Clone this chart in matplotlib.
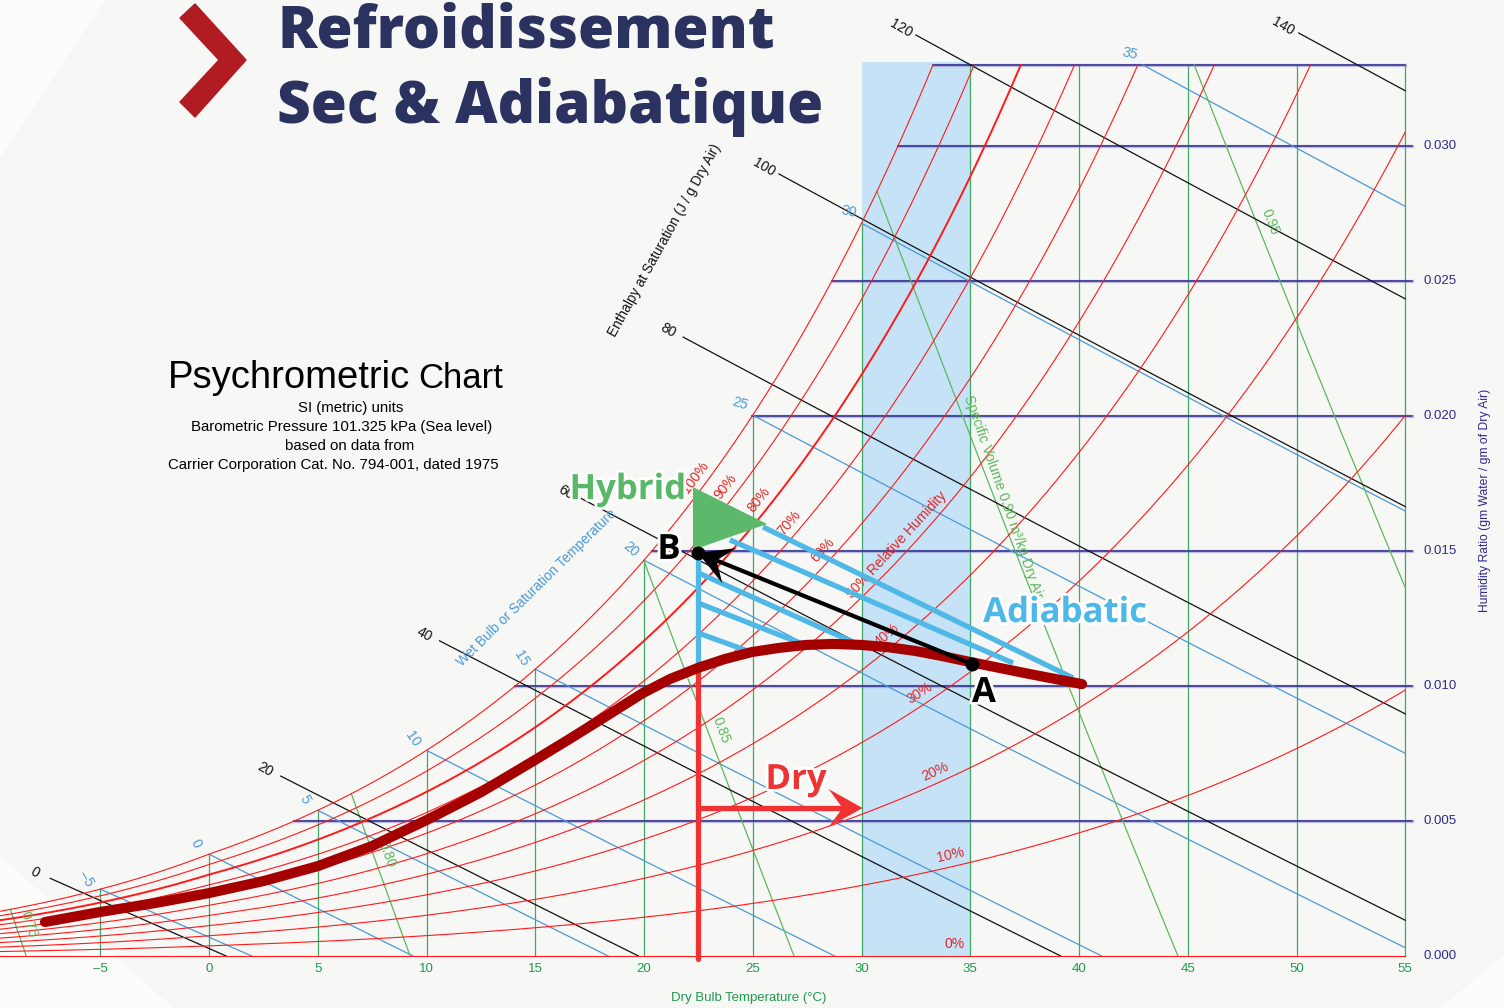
import numpy as np
import matplotlib.pyplot as plt
from matplotlib.patches import Polygon, Rectangle
from matplotlib.transforms import Affine2D
import matplotlib.patheffects as pe

P = 101.325  # kPa, sea level

# ---- chart grid levels ----
t_min, t_max = -10, 55
w_top = 0.033
tdb_ticks = [-10, -5, 0, 5, 10, 15, 20, 25, 30, 35, 40, 45, 50, 55]
tdb_labels = ['–10', '–5', '0', '5', '10', '15', '20', '25', '30', '35', '40', '45', '50', '55']
w_ticks = [0.000, 0.005, 0.010, 0.015, 0.020, 0.025, 0.030]
w_labels = ['0.000', '0.005', '0.010', '0.015', '0.020', '0.025', '0.030']
rh_levels = [0.0, 0.1, 0.2, 0.3, 0.4, 0.5, 0.6, 0.7, 0.8, 0.9, 1.0]
rh_labels = ['0%', '10%', '20%', '30%', '40%', '50% Relative Humidity',
             '60%', '70%', '80%', '90%', '100%']
rh_label_t = [34.3, 34.2, 33.6, 33.0, 31.5, 32.0, 28.6, 27.1, 25.7, 24.2, 22.8]
wb_levels = [-5, 0, 5, 10, 15, 20, 25, 30, 35]
wb_label_rot = [-60, -62, -60, -55, -58, -42, -18, -12, -12]
h_levels = [0, 20, 40, 60, 80, 100, 120, 140]
h_start_t = [-7.3, 3.3, 10.6, 17.1, 21.8, 26.2, 32.5, 50.1]
v_levels = [0.75, 0.80, 0.85, 0.90, 0.95]
v_labels = ['0.75', '0.80', '0.85', 'Specific Volume 0.90 m³/kg Dry Air', '0.95']
v_label_w = [0.0010, 0.0036, 0.0082, 0.0169, 0.0270]

# ---- overlay: yearly climate curve and cooling processes ----
climate_t = [-7.54, -5.01, -2.48, 0, 2.53, 5.01, 7.49, 10.02, 12.51, 14.99, 16.5,
             17.98, 19.95, 21.2, 22.48, 23.72, 24.97, 26.2, 27.45, 28.69, 30.0,
             31.2, 32.46, 33.7, 34.99, 37.75, 40.14]
climate_w = [0.00126, 0.00163, 0.00196, 0.00233, 0.00278, 0.00333, 0.00407,
             0.00504, 0.00607, 0.00726, 0.00800, 0.00874, 0.00974, 0.01026,
             0.01067, 0.01100, 0.01126, 0.01141, 0.01152, 0.01156, 0.01152,
             0.01144, 0.01130, 0.01111, 0.01089, 0.01044, 0.01007]
band_t = [30, 35]
process_t = 22.5
curve_w_at_process = 0.01067
dry_w = 0.00548
dry_end_t = 30.05
point_a = (35.08, 0.01081)
point_b = (22.48, 0.01493)
adiab_t0 = [25.47, 23.95, 22.5, 22.5, 22.5]
adiab_w0 = [0.01589, 0.01541, 0.01419, 0.01307, 0.01196]
adiab_t1 = [39.72, 36.97, 29.9, 27.4, 24.9]
adiab_w1 = [0.01030, 0.01085, 0.01152, 0.01152, 0.01126]
hybrid_t = [22.25, 22.25, 25.66]
hybrid_w = [0.01737, 0.01504, 0.01600]


def psat(t):
    t = np.asarray(t, float)
    water = 0.61094 * np.exp(17.625 * t / (t + 243.04))
    ice = 0.61115 * np.exp(22.452 * t / (272.55 + t))
    return np.where(t >= 0, water, ice)


def w_rh(t, rh):
    pv = rh * psat(t)
    return 0.621945 * pv / (P - pv)


def w_wb(t, twb):
    ws = w_rh(twb, 1.0)
    if twb >= 0:
        return ((2501 - 2.326 * twb) * ws - 1.006 * (t - twb)) / (2501 + 1.86 * t - 4.186 * twb)
    return ((2830 - 0.24 * twb) * ws - 1.006 * (t - twb)) / (2830 + 1.86 * t - 2.1 * twb)


def w_vol(t, v):
    return (v * P / (0.287042 * (t + 273.15)) - 1) / 1.607858


def h_sat(t):
    return 1.006 * t + w_rh(t, 1.0) * (2501 + 1.86 * t)


def solve(f, a, b):
    fa = f(a)
    for _ in range(60):
        m = 0.5 * (a + b)
        fm = f(m)
        if (fm > 0) == (fa > 0):
            a, fa = m, fm
        else:
            b = m
    return 0.5 * (a + b)


# pixel scale of the original chart
PX_T, PX_W = 21.75, 27000.0
X0, Y0 = 209, 956

fig = plt.figure(figsize=(15.04, 10.08), dpi=100)
fig.patch.set_facecolor('#f7f7f5')
pix = Affine2D().scale(1 / 1504, -1 / 1008).translate(0, 1) + fig.transFigure

# lighter corners of the background panel (behind everything)
for pts in ([(0, 0), (104, 0), (0, 157)], [(0, 857), (173, 1008), (0, 1008)],
            [(1440, 1008), (1504, 1008), (1504, 955)]):
    fig.patches.append(Polygon(pts, closed=True, transform=pix, color='#fcfcfb', zorder=-5))

ax = fig.add_axes([0, 0, 1, 1])
ax.set_facecolor('none')
ax.set_xlim((0 - X0) / PX_T, (1504 - X0) / PX_T)
ax.set_ylim((Y0 - 1008) / PX_W, Y0 / PX_W)
ax.axis('off')


def pangle(dt, dw):
    return np.degrees(np.arctan2(dw * PX_W, dt * PX_T))


def off_pt(ang, d):
    a = np.radians(ang)
    return (-np.sin(a) * d, np.cos(a) * d)


def notched_arrow(tail, tip, lw, head_len, head_w, notch, color, z):
    # shaft plus a notched head, sizes in pixels
    p0 = np.array([tail[0] * PX_T, tail[1] * PX_W])
    p1 = np.array([tip[0] * PX_T, tip[1] * PX_W])
    u = (p1 - p0) / np.hypot(*(p1 - p0))
    n = np.array([-u[1], u[0]])
    head = [p1, p1 - head_len * u + head_w * n, p1 - notch * u, p1 - head_len * u - head_w * n]
    head = [(q[0] / PX_T, q[1] / PX_W) for q in head]
    base = p1 - notch * u
    ax.plot([tail[0], base[0] / PX_T], [tail[1], base[1] / PX_W], color=color, lw=lw,
            solid_capstyle='butt', zorder=z)
    ax.add_patch(Polygon(head, closed=True, color=color, lw=0, zorder=z))


FONT = ['Liberation Sans', 'DejaVu Sans']
RED = '#ff1a1a'
GREEN = '#1f9a4e'
NAVY = '#2c2a8c'
WBLUE = '#4a9ad4'
VGREEN = '#5cb85c'

# blue band 30-35 C
ax.add_patch(Rectangle((band_t[0], 0), band_t[1] - band_t[0], w_top + 0.0001,
                       color='#c6e2f7', zorder=0.5, lw=0))

# dry bulb verticals
for t in tdb_ticks:
    top = min(float(w_rh(t, 1.0)), w_top)
    ax.plot([t, t], [0, top], color=GREEN, lw=0.9, alpha=0.85, zorder=1)

# humidity ratio horizontals
for w in w_ticks[1:] + [w_top]:
    ts = solve(lambda t: w_rh(t, 1.0) - w, -20, 60)
    end = 55.32 if w != w_top else 55
    ax.plot([ts, end], [w, w], color=NAVY, lw=1.1, zorder=1.2)
    ax.plot([ts, end], [w, w], color='#8c86c9', lw=2.4, alpha=0.5, zorder=1.1)

# relative humidity curves
for rh in rh_levels:
    if rh > 0 and w_rh(55, rh) > w_top:
        te = solve(lambda t: w_rh(t, rh) - w_top, -10, 55)
    else:
        te = 55
    tt = np.linspace(t_min, te, 500)
    lw = 1.4 if rh == 0.8 else 0.8
    ax.plot(tt, w_rh(tt, rh), color=RED, lw=lw, zorder=1.5)

# wet bulb lines
for twb, rot in zip(wb_levels, wb_label_rot):
    ws = float(w_rh(twb, 1.0))
    if ws <= w_top:
        ts = twb
    else:
        ts = solve(lambda t: w_wb(t, twb) - w_top, twb, 60)
    te = min(55, solve(lambda t: w_wb(t, twb), twb, 120))
    tt = np.linspace(ts, te, 60)
    ww = w_wb(tt, twb)
    ax.plot(tt, ww, color=WBLUE, lw=0.9, zorder=1.3)
    dx, dy = (tt[-1] - tt[0]) * PX_T, (ww[-1] - ww[0]) * PX_W
    n = np.hypot(dx, dy)
    ax.annotate(str(twb).replace('-', '–'), (ts, ww[0]),
                xytext=(-dx / n * 13 + 2, -dy / n * 13 + 2), textcoords='offset points',
                ha='center', va='center', rotation=rot, fontsize=10,
                color=WBLUE, family=FONT, zorder=3)

# enthalpy lines (constant wet bulb at saturation enthalpy)
for h, ts in zip(h_levels, h_start_t):
    twb = solve(lambda t: h_sat(t) - h, -20, 50)
    te = min(55, solve(lambda t: w_wb(t, twb), twb, 150))
    tt = np.linspace(ts, te, 80)
    ww = w_wb(tt, twb)
    ax.plot(tt, ww, color='#111111', lw=0.9, zorder=1.4)
    ax.annotate(str(h), (ts, ww[0]), xytext=(-11, 4.5), textcoords='offset points',
                ha='center', va='center', rotation=-30, fontsize=10,
                color='#111111', family=FONT, zorder=3)

# specific volume lines
for v, lab, wl in zip(v_levels, v_labels, v_label_w):
    t0 = v * P / 0.287042 - 273.15
    te = min(t0, 55)
    ts = solve(lambda t: w_vol(t, v) - min(float(w_rh(t, 1.0)), w_top), -30, t0)
    tt = np.linspace(ts, te, 60)
    ax.plot(tt, w_vol(tt, v), color=VGREEN, lw=0.9, zorder=1.3)
    tl = solve(lambda t: w_vol(t, v) - wl, -30, 80)
    ang = pangle(0.1, w_vol(tl + 0.1, v) - w_vol(tl, v))
    d = 6 if len(lab) > 5 else 9
    rot = ang - 2 if len(lab) > 5 else ang
    ax.annotate(lab, (tl, wl), xytext=off_pt(ang, d), textcoords='offset points',
                ha='center', va='center', rotation=rot, rotation_mode='anchor',
                fontsize=10, color=VGREEN, family=FONT, zorder=3)

# RH labels
for rh, lab, tl in zip(rh_levels, rh_labels, rh_label_t):
    w0 = float(w_rh(tl, rh))
    ang = pangle(0.1, float(w_rh(tl + 0.1, rh)) - w0)
    ax.annotate(lab, (tl, w0), xytext=off_pt(ang, 8.6), textcoords='offset points',
                ha='center', va='center', rotation=ang, rotation_mode='anchor',
                fontsize=10, color='#e02828', family=FONT, zorder=3)

# axis tick labels
for t, lab in zip(tdb_ticks, tdb_labels):
    ax.annotate(lab, (t, 0), xytext=(0, -9.5), textcoords='offset points',
                ha='center', va='center', fontsize=9.5, color=GREEN, family=FONT)
for w, lab in zip(w_ticks, w_labels):
    ax.annotate(lab, (55, w), xytext=(13.5, 0), textcoords='offset points',
                ha='left', va='center', fontsize=9.5, color=NAVY, family=FONT)

fig.text(749 / 1504, 1 - 998 / 1008, 'Dry Bulb Temperature (°C)', ha='center', va='center',
         fontsize=9.5, color=GREEN, family=FONT)
fig.text(1485 / 1504, 1 - 500 / 1008, 'Humidity Ratio (gm Water / gm of Dry Air)',
         ha='center', va='center', rotation=90, fontsize=8.7, color=NAVY, family=FONT)
fig.text(665 / 1504, 1 - 240 / 1008, 'Enthalpy at Saturation (J / g Dry Air)',
         ha='center', va='center', rotation=61, fontsize=9.8, color='#111111', family=FONT)
fig.text(537 / 1504, 1 - 588 / 1008, 'Wet Bulb or Saturation Temperature',
         ha='center', va='center', rotation=44.5, fontsize=9.8, color=WBLUE, family=FONT)

# chart heading
fig.text(168 / 1504, 1 - 388 / 1008, 'Psychrometric', fontsize=27.5, family=FONT, va='baseline')
fig.text(418 / 1504, 1 - 388 / 1008, 'Chart', fontsize=25, family=FONT, va='baseline')
for txt, xc, yc in [('SI (metric) units', 351, 408),
                    ('Barometric Pressure 101.325 kPa (Sea level)', 342, 427),
                    ('based on data from', 350, 446),
                    ('Carrier Corporation Cat. No. 794-001, dated 1975', 333, 465)]:
    fig.text(xc / 1504, 1 - yc / 1008, txt, ha='center', va='center', fontsize=10.8, family=FONT)

# ---- processes ----
ax.plot([process_t, process_t], [-0.0001, curve_w_at_process], color='#f03232', lw=3.8,
        solid_capstyle='round', zorder=4)
ax.plot([process_t, process_t], [curve_w_at_process, point_b[1]], color='#4fb8e6', lw=3.8,
        zorder=4)
for t0, w0, t1, w1 in zip(adiab_t0, adiab_w0, adiab_t1, adiab_w1):
    ax.plot([t0, t1], [w0, w1], color='#4fb8e6', lw=3.8, solid_capstyle='butt', zorder=4)
notched_arrow((process_t, dry_w), (dry_end_t, dry_w), 3.8, 34, 19, 20, '#f03232', 4)
ax.add_patch(Polygon(list(zip(hybrid_t, hybrid_w)), closed=True, color='#5cb96b', lw=0, zorder=4.5))

ax.plot(climate_t, climate_w, color='#a50000', lw=7.3, solid_capstyle='round',
        solid_joinstyle='round', zorder=5)

notched_arrow(point_a, point_b, 3.0, 34, 19, 20, 'black', 6)
ax.plot([point_a[0], point_b[0]], [point_a[1], point_b[1]], 'o', ms=9, color='black', zorder=7)

halo = [pe.withStroke(linewidth=4, foreground='white')]
BOLD = ['Open Sans', 'DejaVu Sans']
ax.text(19.26, 0.01726, 'Hybrid', ha='center', va='center', fontsize=25, fontweight='bold',
        color='#58b868', family=BOLD, path_effects=halo, zorder=8)
ax.text(39.36, 0.01270, 'Adiabatic', ha='center', va='center', fontsize=25, fontweight='bold',
        color='#4db8e8', family=BOLD, path_effects=halo, zorder=8)
ax.text(26.99, 0.00652, 'Dry', ha='center', va='center', fontsize=25, fontweight='bold',
        color='#ee3333', family=BOLD, path_effects=halo, zorder=8)
ax.text(35.63, 0.00974, 'A', ha='center', va='center', fontsize=25, fontweight='bold',
        color='black', family=BOLD, path_effects=halo, zorder=8)
ax.text(21.15, 0.01504, 'B', ha='center', va='center', fontsize=25, fontweight='bold',
        color='black', family=BOLD, path_effects=halo, zorder=8)

# ---- page title ----
fig.patches.append(Polygon([(195, 4), (246, 60), (195, 117), (180, 102), (219, 60), (180, 18)],
                           closed=True, transform=pix, color='#b01c22', zorder=3))
fig.text(277 / 1504, 1 - 48 / 1008, 'Refroidissement', fontsize=42, fontweight='heavy',
         family=['Open Sans', 'DejaVu Sans'], color='#2b3260', va='baseline')
fig.text(277 / 1504, 1 - 123 / 1008, 'Sec & Adiabatique', fontsize=42, fontweight='heavy',
         family=['Open Sans', 'DejaVu Sans'], color='#2b3260', va='baseline')

fig.savefig('out.png', dpi=100, facecolor=fig.get_facecolor())
